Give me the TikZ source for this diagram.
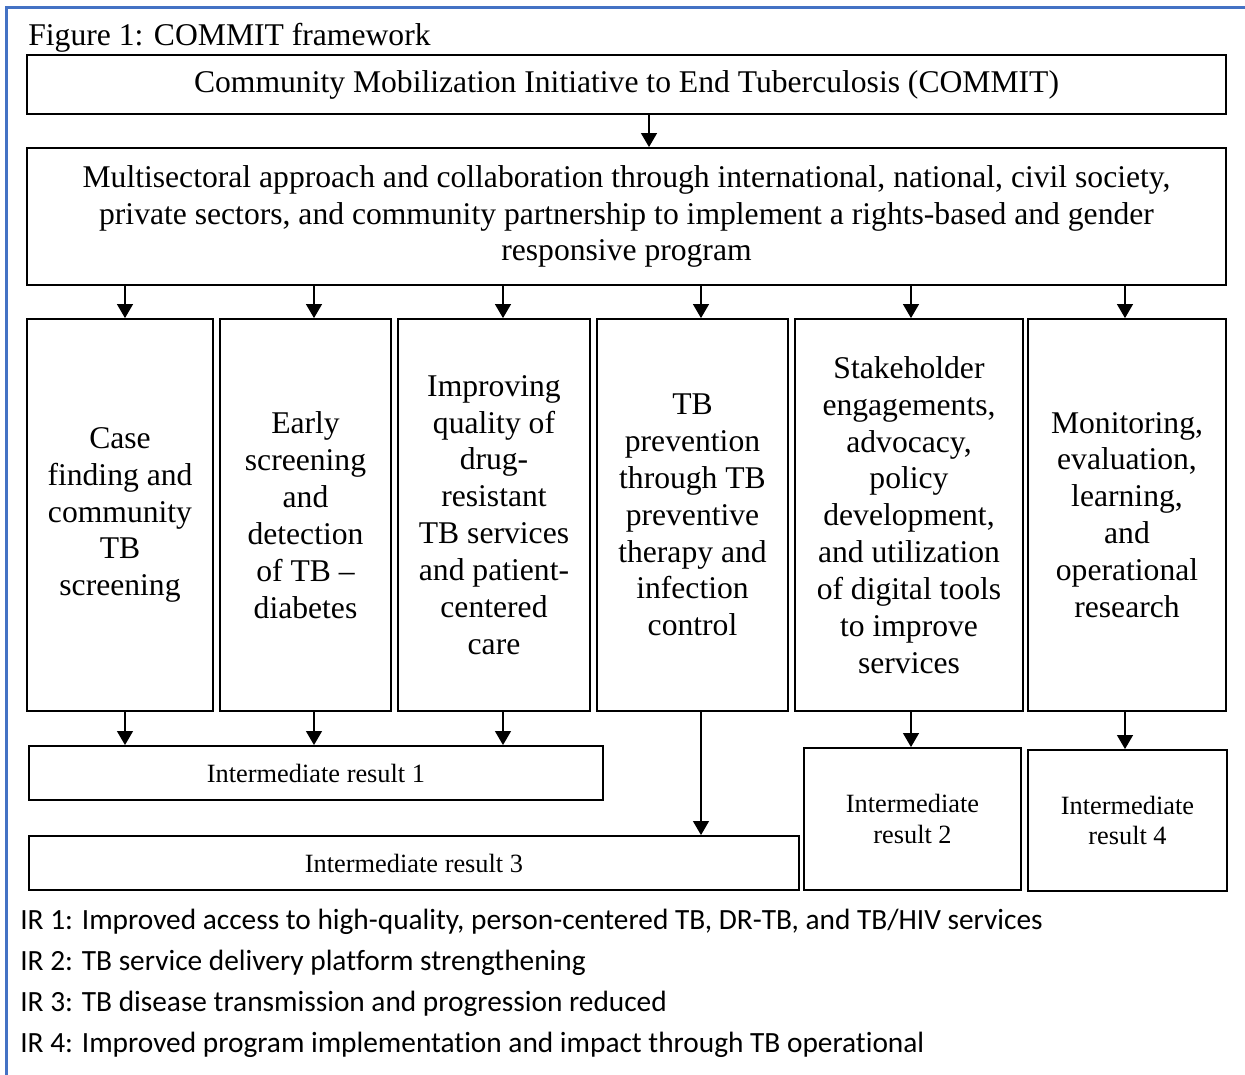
\documentclass[tikz,border=0pt]{standalone}
\usepackage{fontspec}
\setmainfont{Liberation Serif}
\newfontfamily\calibri[Ligatures=NoCommon]{Carlito}
\usetikzlibrary{arrows.meta}
\definecolor{frameblue}{RGB}{68,114,196}

\begin{document}
\begin{tikzpicture}[x=0.02cm, y=-0.02cm,
  box/.style={draw, line width=1.1pt, inner sep=2pt, align=center, font=\fontsize{18}{21}\selectfont},
  irbox/.style={draw, line width=1.1pt, align=center, font=\fontsize{15}{17.6}\selectfont},
  note/.style={anchor=base west, inner sep=0, font=\calibri\fontsize{16.7}{20}\selectfont},
  arr/.style={line width=0.7pt, -{Triangle[width=0.32cm,length=0.28cm]}}]
  \useasboundingbox (0,0) rectangle (1245,1075);
  \draw[frameblue, line width=0.06cm] (6.5,1075) -- (6.5,7.5) -- (1245,7.5);

  \node[anchor=base west, inner sep=0, font=\fontsize{18}{21}\selectfont] (title) at (28,45) {Figure 1: COMMIT framework};

  % top two levels
  \node[box, minimum width=23.98cm, minimum height=1.18cm] (commit) at (626.5,84.5)
    {Community Mobilization Initiative to End Tuberculosis (COMMIT)};
  \node[box, minimum width=23.98cm, minimum height=2.74cm] (multi) at (626.5,216.5)
    {Multisectoral approach and collaboration through international, national, civil society,\\
     private sectors, and community partnership to implement a rights-based and gender\\
     responsive program};
  \draw[arr] (commit.south -| 649,0) -- (multi.north -| 649,0);

  % the six strategies
  \node[box, minimum width=3.72cm, minimum height=7.84cm] (c1) at (120,515)
    {Case\\finding and\\community\\TB\\screening};
  \node[box, minimum width=3.42cm, minimum height=7.84cm] (c2) at (305.5,515)
    {Early\\screening\\and\\detection\\of TB --\\diabetes};
  \node[box, minimum width=3.84cm, minimum height=7.84cm] (c3) at (494,515)
    {Improving\\quality of\\drug-\\resistant\\TB services\\and patient-\\centered\\care};
  \node[box, minimum width=3.82cm, minimum height=7.84cm] (c4) at (692.5,515)
    {TB\\prevention\\through TB\\preventive\\therapy and\\infection\\control};
  \node[box, minimum width=4.56cm, minimum height=7.84cm] (c5) at (909,515)
    {Stakeholder\\engagements,\\advocacy,\\policy\\development,\\and utilization\\of digital tools\\to improve\\services};
  \node[box, minimum width=3.96cm, minimum height=7.84cm] (c6) at (1127,515)
    {Monitoring,\\evaluation,\\learning,\\and\\operational\\research};

  % intermediate results
  \node[irbox, minimum width=11.48cm, minimum height=1.08cm] (ir1) at (316,773) {Intermediate result 1};
  \node[irbox, minimum width=15.4cm, minimum height=1.08cm] (ir3) at (414,863) {Intermediate result 3};
  \node[irbox, minimum width=4.34cm, minimum height=2.84cm] (ir2) at (912.5,819) {Intermediate\\result 2};
  \node[irbox, minimum width=3.98cm, minimum height=2.82cm] (ir4) at (1127.5,820.5) {Intermediate\\result 4};

  \foreach \c/\ax in {c1/125, c2/314, c3/503, c4/701, c5/911, c6/1125}
    \draw[arr] (multi.south -| \ax,0) -- (\c.north -| \ax,0);
  \foreach \c/\ir/\ax in {c1/ir1/125, c2/ir1/314, c3/ir1/503, c4/ir3/701, c5/ir2/911, c6/ir4/1125}
    \draw[arr] (\c.south -| \ax,0) -- (\ir.north -| \ax,0);

  % legend below
  \node[note] (n1) at (20,929) {IR 1: Improved access to high-quality, person-centered TB, DR-TB, and TB/HIV services};
  \node[note] (n2) at (20,970) {IR 2: TB service delivery platform strengthening};
  \node[note] (n3) at (20,1011) {IR 3: TB disease transmission and progression reduced};
  \node[note] (n4) at (20,1052) {IR 4: Improved program implementation and impact through TB operational};
\end{tikzpicture}
\end{document}
